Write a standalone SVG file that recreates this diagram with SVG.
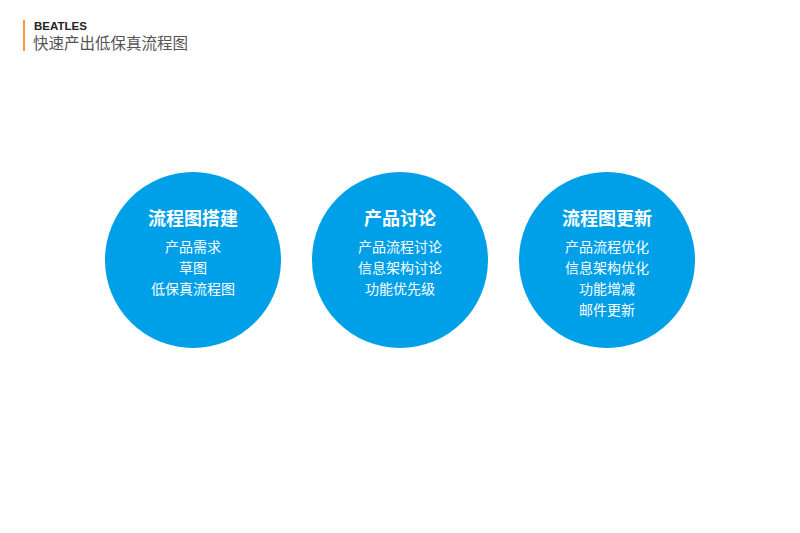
<svg xmlns="http://www.w3.org/2000/svg" width="800" height="533" viewBox="0 0 800 533">
<style>
.circle{fill:#00A0E9;}
.title{font-family:"Noto Sans CJK SC","Noto Sans",sans-serif;font-size:18px;font-weight:bold;fill:#ffffff;text-anchor:middle;}
.sub{font-family:"Noto Sans CJK SC","Noto Sans",sans-serif;font-size:14px;fill:#ffffff;text-anchor:middle;}
</style>
<rect width="800" height="533" fill="#ffffff"/>
<g id="header">
<rect x="23" y="20" width="2" height="31" fill="#F39A3C"/>
<text x="34" y="30" font-family="Liberation Sans,Arial,sans-serif" font-size="11.5" font-weight="bold" fill="#222222">BEATLES</text>
<text x="33" y="49" font-family="Noto Sans CJK SC,sans-serif" font-size="15.5" fill="#555555">快速产出低保真流程图</text>
</g>
<g id="connectors"></g>
<g id="node1">
<circle class="circle" cx="193" cy="260" r="88"/>
<text class="title" x="193" y="225">流程图搭建</text>
<text class="sub" x="193" y="252">产品需求</text>
<text class="sub" x="193" y="273">草图</text>
<text class="sub" x="193" y="294">低保真流程图</text>
</g>
<g id="node2">
<circle class="circle" cx="400" cy="260" r="88"/>
<text class="title" x="400" y="225">产品讨论</text>
<text class="sub" x="400" y="252">产品流程讨论</text>
<text class="sub" x="400" y="273">信息架构讨论</text>
<text class="sub" x="400" y="294">功能优先级</text>
</g>
<g id="node3">
<circle class="circle" cx="607" cy="260" r="88"/>
<text class="title" x="607" y="225">流程图更新</text>
<text class="sub" x="607" y="252">产品流程优化</text>
<text class="sub" x="607" y="273">信息架构优化</text>
<text class="sub" x="607" y="294">功能增减</text>
<text class="sub" x="607" y="315">邮件更新</text>
</g>
</svg>
